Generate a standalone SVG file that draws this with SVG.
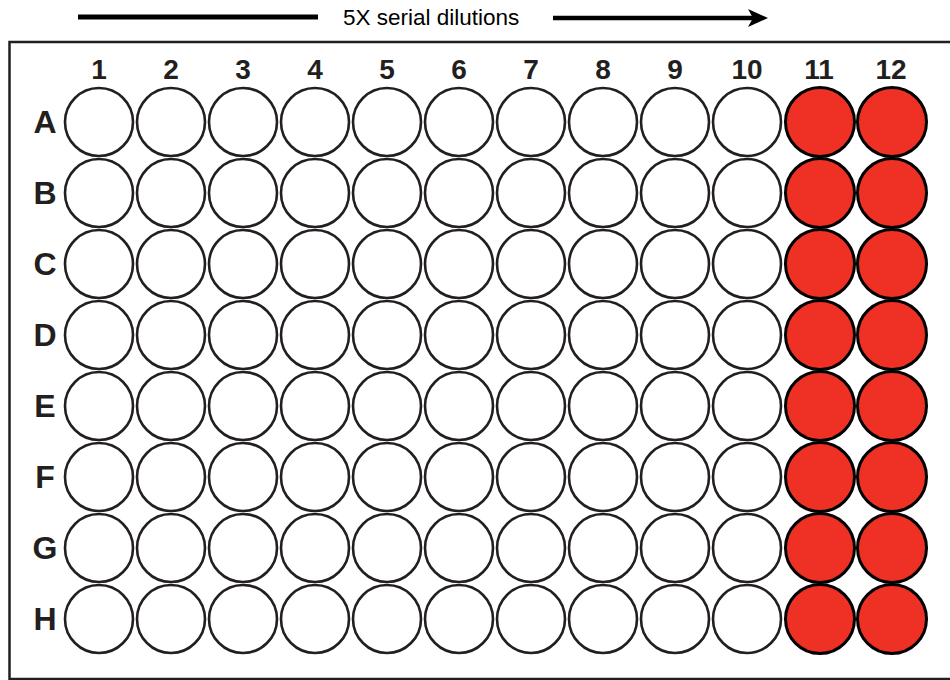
<svg xmlns="http://www.w3.org/2000/svg" width="950" height="680" viewBox="0 0 950 680">
<style>
.w{fill:#fff;stroke:#231f20;stroke-width:2.6}
.r{fill:#ee3124;stroke:#000;stroke-width:3}
.col{font-family:"Liberation Sans",Arial,sans-serif;font-size:28px;font-weight:bold;fill:#231f20;text-anchor:middle}
.row{font-family:"Liberation Sans",Arial,sans-serif;font-size:32px;font-weight:bold;fill:#231f20;text-anchor:middle}
.t{font-family:"Liberation Sans",Arial,sans-serif;font-size:22.5px;fill:#000}
</style>
<rect width="950" height="680" fill="#fff"/>
<g id="title">
<line x1="78" y1="17" x2="318" y2="17" stroke="#000" stroke-width="5"/>
<text class="t" x="343" y="25">5X serial dilutions</text>
<line x1="553" y1="18" x2="756" y2="18" stroke="#000" stroke-width="4.5"/>
<path d="M768,18 L748,9 L753,18 L748,27 Z" fill="#000"/>
</g>
<rect id="plate" x="9.5" y="42" width="960" height="637" fill="none" stroke="#231f20" stroke-width="2.5"/>
<g id="colLabels">
<text class="col" x="99" y="79">1</text>
<text class="col" x="171" y="79">2</text>
<text class="col" x="243" y="79">3</text>
<text class="col" x="315" y="79">4</text>
<text class="col" x="387" y="79">5</text>
<text class="col" x="459" y="79">6</text>
<text class="col" x="531" y="79">7</text>
<text class="col" x="603" y="79">8</text>
<text class="col" x="675" y="79">9</text>
<text class="col" x="747" y="79">10</text>
<text class="col" x="819" y="79">11</text>
<text class="col" x="891" y="79">12</text>
</g>
<g id="rowLabels">
<text class="row" x="45" y="133">A</text>
<text class="row" x="45" y="204">B</text>
<text class="row" x="45" y="275">C</text>
<text class="row" x="45" y="346">D</text>
<text class="row" x="45" y="417">E</text>
<text class="row" x="45" y="488">F</text>
<text class="row" x="45" y="559">G</text>
<text class="row" x="45" y="630">H</text>
</g>
<defs>
<g id="rowW">
<circle class="w" cx="99" cy="0" r="34"/>
<circle class="w" cx="171" cy="0" r="34"/>
<circle class="w" cx="243" cy="0" r="34"/>
<circle class="w" cx="315" cy="0" r="34"/>
<circle class="w" cx="387" cy="0" r="34"/>
<circle class="w" cx="459" cy="0" r="34"/>
<circle class="w" cx="531" cy="0" r="34"/>
<circle class="w" cx="603" cy="0" r="34"/>
<circle class="w" cx="675" cy="0" r="34"/>
<circle class="w" cx="747" cy="0" r="34"/>
<circle class="r" cx="820" cy="0" r="34.5"/>
<circle class="r" cx="892" cy="0" r="34.5"/>
</g>
</defs>
<g id="wells">
<use id="rowA" href="#rowW" y="122"/>
<use id="rowB" href="#rowW" y="193"/>
<use id="rowC" href="#rowW" y="264"/>
<use id="rowD" href="#rowW" y="335"/>
<use id="rowE" href="#rowW" y="406"/>
<use id="rowF" href="#rowW" y="477"/>
<use id="rowG" href="#rowW" y="548"/>
<use id="rowH" href="#rowW" y="619"/>
</g>
</svg>
